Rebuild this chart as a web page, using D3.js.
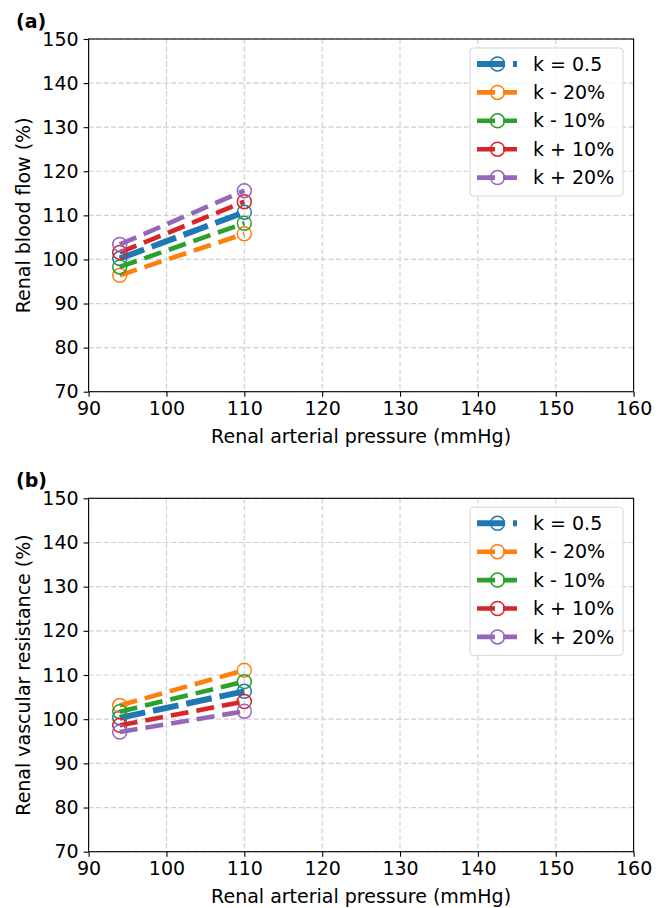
<!DOCTYPE html>
<html>
<head>
<meta charset="utf-8">
<script src="https://cdn.jsdelivr.net/npm/d3@7"></script>
<style>
  html, body { margin: 0; padding: 0; background: #fff; }
  svg { display: block; font-family: "DejaVu Sans", sans-serif; }
</style>
</head>
<body>
<svg id="chart" width="667" height="908"></svg>
<script>
// ---- data ----
const pressures = [94, 110];
const seriesNames = ["k = 0.5", "k - 20%", "k - 10%", "k + 10%", "k + 20%"];
const seriesColors = ["#1f77b4", "#ff7f0e", "#2ca02c", "#d62728", "#9467bd"];
const flowBase = [100.2, 110.7];
const flowMinus20 = [96.4, 105.8];
const flowMinus10 = [98.3, 108.2];
const flowPlus10 = [101.6, 113.1];
const flowPlus20 = [103.4, 115.6];
const resBase = [100.3, 106.3];
const resMinus20 = [103.1, 111.1];
const resMinus10 = [101.7, 108.5];
const resPlus10 = [98.6, 104.0];
const resPlus20 = [97.1, 101.8];
const xTicks = [90, 100, 110, 120, 130, 140, 150, 160];
const yTicks = [70, 80, 90, 100, 110, 120, 130, 140, 150];

const panels = [
  { label: "(a)", ylabel: "Renal blood flow (%)", xlabel: "Renal arterial pressure (mmHg)",
    series: [flowBase, flowMinus20, flowMinus10, flowPlus10, flowPlus20],
    top: 39, bottom: 391.7 },
  { label: "(b)", ylabel: "Renal vascular resistance (%)", xlabel: "Renal arterial pressure (mmHg)",
    series: [resBase, resMinus20, resMinus10, resPlus10, resPlus20],
    top: 498.3, bottom: 851.7 }
];

const svg = d3.select("#chart");
const left = 88.6, right = 633.6;
const FS = 19;

panels.forEach(p => {
  const x = d3.scaleLinear().domain([90, 160]).range([left, right]);
  const y = d3.scaleLinear().domain([70, 150]).range([p.bottom, p.top]);
  const g = svg.append("g");

  // grid
  g.selectAll(".gx").data(xTicks).enter().append("line")
    .attr("x1", d => x(d)).attr("x2", d => x(d))
    .attr("y1", p.top).attr("y2", p.bottom)
    .attr("stroke", "#cfcfcf").attr("stroke-width", 1.2).attr("stroke-dasharray", "5,2.5");
  g.selectAll(".gy").data(yTicks).enter().append("line")
    .attr("x1", left).attr("x2", right)
    .attr("y1", d => y(d)).attr("y2", d => y(d))
    .attr("stroke", "#cfcfcf").attr("stroke-width", 1.2).attr("stroke-dasharray", "5,2.5");

  // series
  p.series.forEach((vals, i) => {
    const pts = pressures.map((px, j) => [x(px), y(vals[j])]);
    const lw = i === 0 ? 6 : 4.6;
    const dash = i === 0 ? "26,8" : "18,8";
    g.append("path")
      .attr("d", d3.line()(pts))
      .attr("fill", "none").attr("stroke", seriesColors[i])
      .attr("stroke-width", lw).attr("stroke-dasharray", dash);
    g.selectAll(null).data(pts).enter().append("circle")
      .attr("cx", d => d[0]).attr("cy", d => d[1]).attr("r", 7)
      .attr("fill", "none").attr("stroke", seriesColors[i]).attr("stroke-width", 1.5);
  });

  // axes
  const xAxis = d3.axisBottom(x).tickValues(xTicks).tickSize(5).tickPadding(5).tickFormat(d3.format("d"));
  const yAxis = d3.axisLeft(y).tickValues(yTicks).tickSize(5).tickPadding(5).tickFormat(d3.format("d"));
  const gx = g.append("g").attr("transform", `translate(0,${p.bottom})`).call(xAxis);
  const gy = g.append("g").attr("transform", `translate(${left},0)`).call(yAxis);
  [gx, gy].forEach(a => {
    a.select(".domain").remove();
    a.selectAll(".tick line").attr("stroke", "#000").attr("stroke-width", 1.1);
    a.selectAll(".tick text").attr("font-size", FS).attr("fill", "#000")
      .attr("font-family", "DejaVu Sans, sans-serif");
  });
  // spines
  g.append("rect").attr("x", left).attr("y", p.top)
    .attr("width", right - left).attr("height", p.bottom - p.top)
    .attr("fill", "none").attr("stroke", "#000").attr("stroke-width", 1.1);

  // labels
  g.append("text").attr("x", (left + right) / 2).attr("y", p.bottom + 51)
    .attr("text-anchor", "middle").attr("font-size", FS).text(p.xlabel);
  g.append("text")
    .attr("transform", `translate(30,${(p.top + p.bottom) / 2}) rotate(-90)`)
    .attr("text-anchor", "middle").attr("font-size", FS).text(p.ylabel);
  g.append("text").attr("x", 16).attr("y", p.top - 11)
    .attr("font-size", FS).attr("font-weight", "bold").text(p.label);

  // legend
  const lx = 470, ly = p.top + 9, lw = 153, lh = 148;
  const lg = g.append("g");
  lg.append("rect").attr("x", lx).attr("y", ly).attr("width", lw).attr("height", lh)
    .attr("rx", 3).attr("fill", "#fff").attr("fill-opacity", 0.8)
    .attr("stroke", "#d5d5d5").attr("stroke-width", 1);
  seriesNames.forEach((name, i) => {
    const ry = ly + 16 + i * 28.4;
    lg.append("line").attr("x1", lx + 7).attr("x2", lx + 47)
      .attr("y1", ry).attr("y2", ry)
      .attr("stroke", seriesColors[i]).attr("stroke-width", i === 0 ? 6 : 4.6)
      .attr("stroke-dasharray", i === 0 ? "28,8" : "18,8");
    lg.append("circle").attr("cx", lx + 27.5).attr("cy", ry).attr("r", 7)
      .attr("fill", "none").attr("stroke", seriesColors[i]).attr("stroke-width", 1.5);
    lg.append("text").attr("x", lx + 63).attr("y", ry).attr("dy", "0.35em")
      .attr("font-size", FS).text(name);
  });
});
</script>
</body>
</html>
